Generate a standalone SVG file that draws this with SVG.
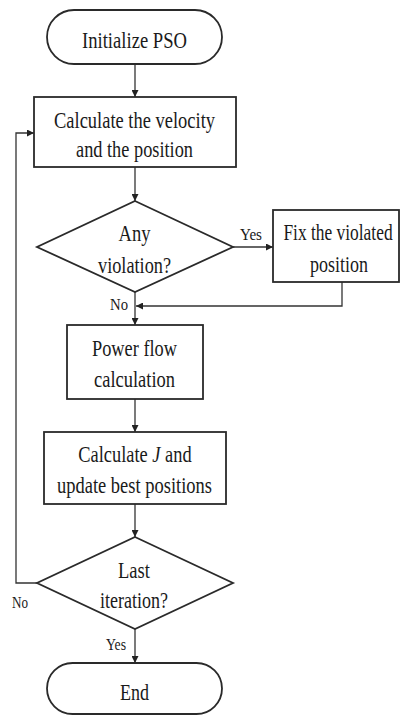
<svg xmlns="http://www.w3.org/2000/svg" width="401" height="715" viewBox="0 0 401 715">
<style>
.sh{fill:#fff;stroke:#2a2a2a;stroke-width:1.8}
.t{font-family:"Liberation Serif","Times New Roman",serif;font-size:23px;fill:#1a1a1a;text-anchor:middle}
.l{font-family:"Liberation Serif","Times New Roman",serif;font-size:16px;fill:#1a1a1a;text-anchor:middle}
.c{fill:none;stroke:#333;stroke-width:1.3}
</style>
<defs>
<marker id="ah" viewBox="0 0 10 10" refX="10" refY="5" markerWidth="7" markerHeight="7" markerUnits="userSpaceOnUse" orient="auto">
<path d="M0,0 L10,5 L0,10 z" fill="#222"/>
</marker>
</defs>
<rect width="401" height="715" fill="#fff"/>
<g id="connectors">
<line class="c" x1="135" y1="64" x2="135" y2="97" marker-end="url(#ah)"/>
<line class="c" x1="135" y1="167" x2="135" y2="201" marker-end="url(#ah)"/>
<line class="c" x1="233" y1="247" x2="273" y2="247" marker-end="url(#ah)"/>
<polyline class="c" points="342,282 342,306 136,306" marker-end="url(#ah)"/>
<line class="c" x1="135" y1="292" x2="135" y2="325" marker-end="url(#ah)"/>
<line class="c" x1="135" y1="399" x2="135" y2="432" marker-end="url(#ah)"/>
<line class="c" x1="135" y1="504" x2="135" y2="537" marker-end="url(#ah)"/>
<polyline class="c" points="37,583 16,583 16,133 34,133" marker-end="url(#ah)"/>
<line class="c" x1="135" y1="629" x2="135" y2="663" marker-end="url(#ah)"/>
<text class="l" x="251" y="240" textLength="22" lengthAdjust="spacingAndGlyphs">Yes</text>
<text class="l" x="119" y="310" textLength="18" lengthAdjust="spacingAndGlyphs">No</text>
<text class="l" x="20" y="608" textLength="16" lengthAdjust="spacingAndGlyphs">No</text>
<text class="l" x="116" y="650" textLength="20" lengthAdjust="spacingAndGlyphs">Yes</text>
</g>
<g id="start">
<rect class="sh" x="47" y="10" width="175" height="54" rx="27" ry="27"/>
<text class="t" x="134.5" y="48" textLength="105" lengthAdjust="spacingAndGlyphs">Initialize PSO</text>
</g>
<g id="calc-velocity">
<rect class="sh" x="34" y="97" width="202" height="70"/>
<text class="t" x="134.5" y="128" textLength="161" lengthAdjust="spacingAndGlyphs">Calculate the velocity</text>
<text class="t" x="134.5" y="157" textLength="117" lengthAdjust="spacingAndGlyphs">and the position</text>
</g>
<g id="violation">
<polygon class="sh" points="135,201 233,247 135,292 37,247"/>
<text class="t" x="134.5" y="241" textLength="32" lengthAdjust="spacingAndGlyphs">Any</text>
<text class="t" x="134.5" y="273" textLength="73" lengthAdjust="spacingAndGlyphs">violation?</text>
</g>
<g id="fix">
<rect class="sh" x="273" y="210" width="126" height="72"/>
<text class="t" transform="translate(338,240) scale(0.757,1)" x="0" y="0">Fix the violated</text>
<text class="t" x="339" y="272" textLength="58" lengthAdjust="spacingAndGlyphs">position</text>
</g>
<g id="power-flow">
<rect class="sh" x="67" y="325" width="136" height="74"/>
<text class="t" x="134.5" y="356" textLength="85" lengthAdjust="spacingAndGlyphs">Power flow</text>
<text class="t" x="134.5" y="387" textLength="81" lengthAdjust="spacingAndGlyphs">calculation</text>
</g>
<g id="calc-j">
<rect class="sh" x="44" y="432" width="182" height="72"/>
<text class="t" transform="translate(135,462) scale(0.80,1)" x="0" y="0">Calculate <tspan font-style="italic">J</tspan> and</text>
<text class="t" x="134.5" y="493" textLength="155" lengthAdjust="spacingAndGlyphs">update best positions</text>
</g>
<g id="last-iteration">
<polygon class="sh" points="135,537 233,583 135,629 37,583"/>
<text class="t" x="134" y="578" textLength="32" lengthAdjust="spacingAndGlyphs">Last</text>
<text class="t" x="134" y="608" textLength="68" lengthAdjust="spacingAndGlyphs">iteration?</text>
</g>
<g id="end">
<rect class="sh" x="47" y="663" width="175" height="51" rx="25.5" ry="25.5"/>
<text class="t" x="134.5" y="700" textLength="29" lengthAdjust="spacingAndGlyphs">End</text>
</g>
</svg>
